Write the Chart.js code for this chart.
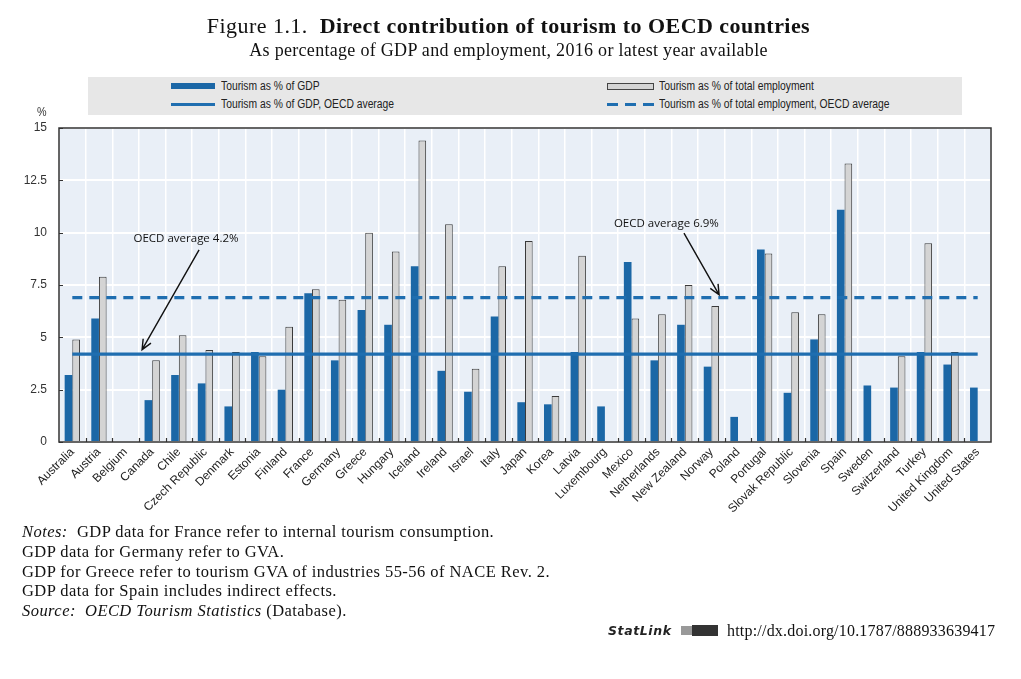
<!DOCTYPE html>
<html><head><meta charset="utf-8">
<script src="https://cdn.jsdelivr.net/npm/chart.js@4/dist/chart.umd.min.js"></script>
<style>
html,body{margin:0;padding:0;background:#fff;width:1021px;height:679px;overflow:hidden;position:relative;}
#c{position:absolute;left:0;top:0;}
.t{position:absolute;white-space:nowrap;color:#111;}
.serif{font-family:"Liberation Serif","Times New Roman",serif;}
.narrow{font-family:"Liberation Sans Narrow","Arial Narrow","Liberation Sans",sans-serif;transform:scaleX(0.86);transform-origin:0 0;}
.sw{position:absolute;}
</style></head>
<body>
<canvas id="c" width="1021" height="679"></canvas>

<div class="t serif" style="left:0;width:1017px;text-align:center;top:15px;font-size:22px;line-height:22px;letter-spacing:0.45px;">Figure 1.1.&nbsp; <b>Direct contribution of tourism to OECD countries</b></div>
<div class="t serif" style="left:0;width:1017px;text-align:center;top:41px;font-size:18px;line-height:18px;letter-spacing:0.3px;">As percentage of GDP and employment, 2016 or latest year available</div>

<div style="position:absolute;left:88px;top:77px;width:874px;height:38px;background:#e7e7e7;"></div>
<div class="sw" style="left:171px;top:83px;width:44px;height:6px;background:#1b67a6;"></div>
<div class="t narrow" style="left:221px;top:79px;font-size:12px;line-height:14px;color:#222;">Tourism as % of GDP</div>
<div class="sw" style="left:171px;top:102.5px;width:44px;height:3px;background:#1f6eb0;"></div>
<div class="t narrow" style="left:221px;top:97px;font-size:12px;line-height:14px;color:#222;">Tourism as % of GDP, OECD average</div>
<div class="sw" style="left:607px;top:83px;width:45px;height:5px;background:#d4d4d4;border:1px solid #444;"></div>
<div class="t narrow" style="left:659px;top:79px;font-size:12px;line-height:14px;color:#222;">Tourism as % of total employment</div>
<div class="sw" style="left:607px;top:102.5px;width:47px;height:3px;background:repeating-linear-gradient(to right,#1f6eb0 0 11px,transparent 11px 18px);"></div>
<div class="t narrow" style="left:659px;top:97px;font-size:12px;line-height:14px;color:#222;">Tourism as % of total employment, OECD average</div>

<div class="t narrow" style="left:37px;top:105px;font-size:12.5px;line-height:14px;color:#333;">%</div>

<div class="t serif" style="left:22px;top:522px;font-size:16.5px;line-height:19.75px;letter-spacing:0.45px;color:#111;">
<i>Notes:</i>&nbsp; GDP data for France refer to internal tourism consumption.<br>
GDP data for Germany refer to GVA.<br>
GDP for Greece refer to tourism GVA of industries 55-56 of NACE Rev. 2.<br>
GDP data for Spain includes indirect effects.<br>
<i>Source:</i>&nbsp; <i>OECD Tourism Statistics</i> (Database).
</div>

<div class="t" style="left:608px;top:623px;font-family:'DejaVu Sans',sans-serif;font-weight:bold;font-style:italic;font-size:12.5px;line-height:15px;letter-spacing:0.6px;color:#222;">StatLink</div>
<div class="sw" style="left:681px;top:626px;width:11px;height:9px;background:#999;"></div>
<div class="sw" style="left:692px;top:625px;width:26px;height:11px;background:#333;"></div>
<div class="t serif" style="left:727px;top:622px;font-size:16px;line-height:18px;letter-spacing:0.2px;color:#111;">http://dx.doi.org/10.1787/888933639417</div>

<script>
const categories = ['Australia','Austria','Belgium','Canada','Chile','Czech Republic','Denmark','Estonia','Finland','France','Germany','Greece','Hungary','Iceland','Ireland','Israel','Italy','Japan','Korea','Latvia','Luxembourg','Mexico','Netherlands','New Zealand','Norway','Poland','Portugal','Slovak Republic','Slovenia','Spain','Sweden','Switzerland','Turkey','United Kingdom','United States'];
const gdpShare = [3.2,5.9,null,2.0,3.2,2.8,1.7,4.3,2.5,7.1,3.9,6.3,5.6,8.4,3.4,2.4,6.0,1.9,1.8,4.3,1.7,8.6,3.9,5.6,3.6,1.2,9.2,2.35,4.9,11.1,2.7,2.6,4.3,3.7,2.6];
const employmentShare = [4.9,7.9,null,3.9,5.1,4.4,4.3,4.1,5.5,7.3,6.8,10.0,9.1,14.4,10.4,3.5,8.4,9.6,2.2,8.9,null,5.9,6.1,7.5,6.5,null,9.0,6.2,6.1,13.3,null,4.1,9.5,4.3,null];
const gdpAverage = 4.2;
const employmentAverage = 6.9;
const yTicks = [0,2.5,5,7.5,10,12.5,15];
const annotations = [
  {text:'OECD average 4.2%', textAt:[4.27,9.72], from:[4.76,9.18], to:[2.62,4.41]},
  {text:'OECD average 6.9%', textAt:[22.31,10.42], from:[22.97,9.98], to:[24.29,7.03]}
];

const BLUE = '#1b67a6';
const LINEBLUE = '#1f6eb0';
const NARROW = '"Liberation Sans Narrow","Arial Narrow","Liberation Sans",sans-serif';

const decor = {
  id:'decor',
  beforeDraw(chart){
    const {ctx, chartArea:a} = chart;
    ctx.save();
    ctx.fillStyle = '#e9eff7';
    ctx.fillRect(a.left, a.top, a.right-a.left, a.bottom-a.top);
    ctx.restore();
  },
  afterDraw(chart){
    const {ctx, chartArea:a} = chart;
    const xs = chart.scales.x, ys = chart.scales.y;
    ctx.save();
    ctx.strokeStyle = '#333';
    ctx.lineWidth = 1.2;
    ctx.beginPath();
    for (let i=1;i<categories.length;i++){
      const x = Math.round(xs.getPixelForValue(i-0.5))+0.5;
      ctx.moveTo(x, a.bottom); ctx.lineTo(x, a.bottom-4);
    }
    yTicks.forEach(v=>{
      const y = Math.round(ys.getPixelForValue(v))+0.5;
      ctx.moveTo(a.left, y); ctx.lineTo(a.left+4, y);
    });
    ctx.stroke();
    ctx.strokeStyle = '#333';
    ctx.lineWidth = 1.5;
    ctx.strokeRect(a.left, a.top, a.right-a.left, a.bottom-a.top);
    ctx.font = '11.5px "Open Sans", sans-serif';
    ctx.fillStyle = '#111';
    ctx.textAlign = 'center';
    ctx.textBaseline = 'middle';
    ctx.strokeStyle = '#111';
    ctx.lineWidth = 1.4;
    annotations.forEach(an=>{
      ctx.fillText(an.text, xs.getPixelForValue(an.textAt[0]), ys.getPixelForValue(an.textAt[1]));
      const sx = xs.getPixelForValue(an.from[0]), sy = ys.getPixelForValue(an.from[1]);
      const tx = xs.getPixelForValue(an.to[0]), ty = ys.getPixelForValue(an.to[1]);
      const th = Math.atan2(ty-sy, tx-sx);
      ctx.beginPath();
      ctx.moveTo(sx, sy); ctx.lineTo(tx, ty);
      ctx.moveTo(tx - 11*Math.cos(th-0.42), ty - 11*Math.sin(th-0.42));
      ctx.lineTo(tx, ty);
      ctx.lineTo(tx - 11*Math.cos(th+0.42), ty - 11*Math.sin(th+0.42));
      ctx.stroke();
    });
    ctx.restore();
  }
};

new Chart(document.getElementById('c'), {
  type:'bar',
  data:{
    labels: categories,
    datasets:[
      {type:'line', label:'Tourism as % of GDP, OECD average', data:[{x:categories[0],y:gdpAverage},{x:categories[categories.length-1],y:gdpAverage}], borderColor:LINEBLUE, borderWidth:3.2, pointRadius:0, fill:false, order:0},
      {type:'line', label:'Tourism as % of total employment, OECD average', data:[{x:categories[0],y:employmentAverage},{x:categories[categories.length-1],y:employmentAverage}], borderColor:LINEBLUE, borderWidth:3.2, borderDash:[10,7], pointRadius:0, fill:false, order:0},
      {label:'Tourism as % of GDP', data:gdpShare, backgroundColor:BLUE, borderWidth:0, categoryPercentage:0.575, barPercentage:1.0, order:1},
      {label:'Tourism as % of total employment', data:employmentShare, backgroundColor:'#d4d4d4', borderColor:'#3a3a3a', borderWidth:1, categoryPercentage:0.575, barPercentage:1.0, order:1}
    ]
  },
  options:{
    responsive:false,
    animation:false,
    events:[],
    layout:{padding:{top:128,right:30,left:0,bottom:137}},
    plugins:{legend:{display:false}, tooltip:{enabled:false}, title:{display:false}},
    scales:{
      x:{
        offset:true,
        grid:{color:'#ffffff', lineWidth:1.5, drawTicks:false, offset:true},
        border:{display:false},
        ticks:{autoSkip:false, minRotation:45, maxRotation:45, padding:3, color:'#222', font:{family:NARROW, size:12}},
        afterFit(s){ s.height = 100; }
      },
      y:{
        min:0, max:15,
        grid:{color:'#ffffff', lineWidth:2, drawTicks:false},
        border:{display:false},
        afterBuildTicks(s){ s.ticks = yTicks.map(v=>({value:v})); },
        ticks:{padding:12, color:'#333', font:{family:NARROW, size:12}},
        afterFit(s){ s.width = 59; }
      }
    }
  },
  plugins:[decor]
});
</script>
</body></html>
